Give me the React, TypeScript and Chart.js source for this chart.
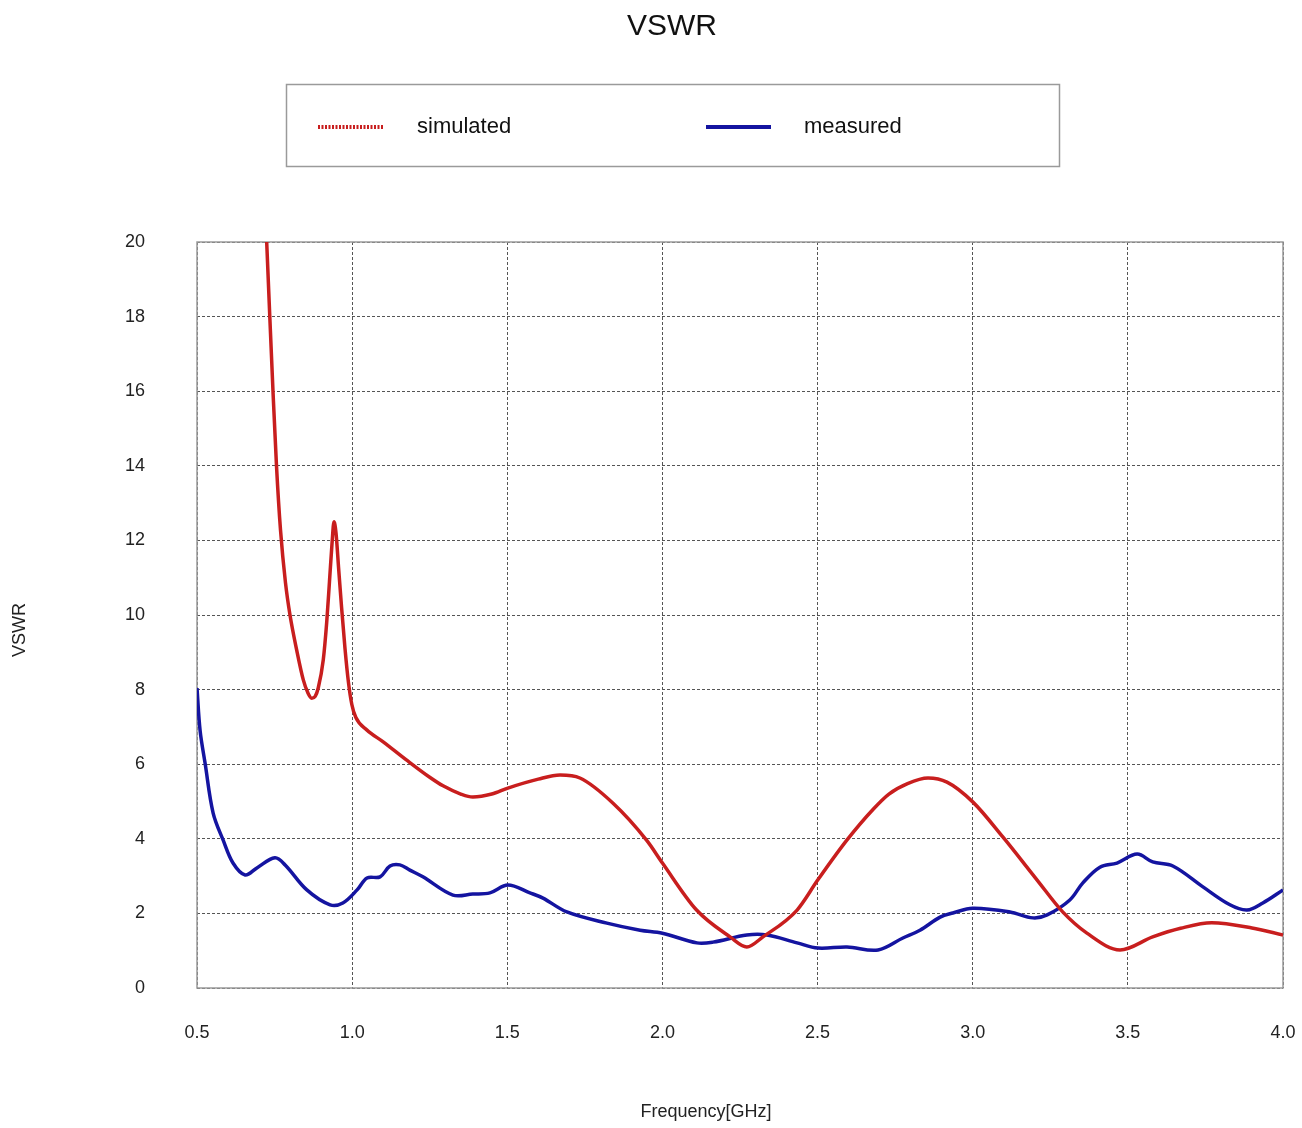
import React, { useEffect, useRef } from "react";
import { Chart, registerables } from "chart.js";

Chart.register(...registerables);

const chartTitle = "VSWR";
const xAxisTitle = "Frequency[GHz]";
const yAxisTitle = "VSWR";
const seriesNames = ["simulated", "measured"];

const simFreq = [0.7246, 0.7346, 0.7449, 0.7562, 0.7691, 0.7852, 0.7997, 0.8213, 0.8426, 0.857, 0.8696, 0.8809, 0.8909, 0.907, 0.918, 0.927, 0.935, 0.9415, 0.948, 0.956, 0.966, 0.977, 0.988, 0.999, 1.012, 1.047, 1.1, 1.177, 1.25, 1.293, 1.35, 1.389, 1.45, 1.502, 1.6, 1.67, 1.734, 1.84, 1.95, 2.0, 2.11, 2.218, 2.272, 2.324, 2.434, 2.501, 2.595, 2.68, 2.73, 2.79, 2.856, 2.917, 3.0, 3.097, 3.207, 3.29, 3.368, 3.475, 3.58, 3.67, 3.77, 3.9, 4.0];
const simVswr = [20, 18, 16, 14, 12.28, 10.86, 10, 9.06, 8.26, 7.92, 7.77, 7.82, 8.05, 8.8, 9.8, 10.9, 11.9, 12.5, 12.2, 11.3, 10.2, 9.1, 8.2, 7.6, 7.25, 6.92, 6.6, 6.1, 5.65, 5.42, 5.2, 5.12, 5.2, 5.36, 5.6, 5.71, 5.63, 4.96, 3.95, 3.35, 2.09, 1.37, 1.1, 1.37, 2.09, 2.9, 3.97, 4.8, 5.2, 5.48, 5.63, 5.52, 4.99, 4.05, 2.9, 2.04, 1.47, 1.02, 1.37, 1.6, 1.75, 1.61, 1.42];

const measFreq = [0.5, 0.51, 0.526, 0.552, 0.584, 0.616, 0.655, 0.693, 0.751, 0.784, 0.854, 0.929, 0.97, 1.016, 1.048, 1.09, 1.122, 1.154, 1.186, 1.228, 1.325, 1.389, 1.444, 1.502, 1.573, 1.615, 1.692, 1.821, 1.928, 2.0, 2.111, 2.163, 2.272, 2.337, 2.434, 2.501, 2.595, 2.695, 2.775, 2.83, 2.895, 2.936, 3.0, 3.12, 3.194, 3.24, 3.313, 3.355, 3.41, 3.465, 3.53, 3.58, 3.645, 3.742, 3.829, 3.884, 3.935, 4.0];
const measVswr = [8.04, 6.9, 6.03, 4.69, 3.97, 3.35, 3.03, 3.22, 3.49, 3.3, 2.63, 2.23, 2.28, 2.63, 2.95, 2.98, 3.27, 3.3, 3.16, 2.98, 2.49, 2.52, 2.55, 2.76, 2.55, 2.41, 2.04, 1.74, 1.55, 1.47, 1.21, 1.23, 1.42, 1.42, 1.21, 1.07, 1.1, 1.02, 1.34, 1.55, 1.9, 2.01, 2.14, 2.04, 1.88, 1.96, 2.36, 2.82, 3.24, 3.35, 3.59, 3.38, 3.27, 2.71, 2.23, 2.09, 2.28, 2.63];

const xMin = 0.5;
const xMax = 4.0;
const xStep = 0.5;
const yMin = 0;
const yMax = 20;
const yStep = 2;

const RED = "#c81e1e";
const BLUE = "#1414a0";
const FONT = "'Liberation Sans', Arial, sans-serif";

const decorPlugin = {
  id: "decor",
  beforeDatasetsDraw(chart: any) {
    const { ctx, chartArea } = chart;
    ctx.save();
    ctx.strokeStyle = "#9a9a9a";
    ctx.lineWidth = 1.5;
    ctx.setLineDash([]);
    ctx.strokeRect(chartArea.left, chartArea.top, chartArea.right - chartArea.left, chartArea.bottom - chartArea.top);
    ctx.restore();
  },
  afterDraw(chart: any) {
    const { ctx } = chart;
    ctx.save();
    ctx.fillStyle = "#111";
    ctx.font = `30px ${FONT}`;
    ctx.textAlign = "center";
    ctx.textBaseline = "middle";
    ctx.fillText(chartTitle, 672, 27);
    // axis titles
    ctx.fillStyle = "#222";
    ctx.font = `18px ${FONT}`;
    ctx.fillText(xAxisTitle, 706, 1112);
    ctx.save();
    ctx.translate(20, 630);
    ctx.rotate(-Math.PI / 2);
    ctx.fillText(yAxisTitle, 0, 0);
    ctx.restore();
    // legend
    ctx.strokeStyle = "#9a9a9a";
    ctx.lineWidth = 1.5;
    ctx.strokeRect(286.5, 84.5, 773, 82);
    const ds = chart.data.datasets;
    const items = [
      { x0: 318, x1: 383, tx: 417, dash: [2, 1.5] },
      { x0: 706, x1: 771, tx: 804, dash: [] },
    ];
    items.forEach((it, i) => {
      ctx.beginPath();
      ctx.strokeStyle = ds[i].borderColor;
      ctx.lineWidth = 4;
      ctx.setLineDash(it.dash);
      ctx.moveTo(it.x0, 127);
      ctx.lineTo(it.x1, 127);
      ctx.stroke();
      ctx.setLineDash([]);
      ctx.fillStyle = "#111";
      ctx.font = `22px ${FONT}`;
      ctx.textAlign = "left";
      ctx.textBaseline = "middle";
      ctx.fillText(ds[i].label, it.tx, 127);
    });
    ctx.restore();
  },
};

export default function App() {
  const ref = useRef<HTMLCanvasElement | null>(null);
  useEffect(() => {
    if (!ref.current) return;
    const sim = simFreq.map((f, i) => ({ x: f, y: simVswr[i] }));
    const meas = measFreq.map((f, i) => ({ x: f, y: measVswr[i] }));
    const gridCommon = {
      color: "#555",
      lineWidth: 1,
      drawTicks: false,
    };
    const chart = new Chart(ref.current, {
      type: "line",
      data: {
        datasets: [
          {
            label: seriesNames[0],
            data: sim,
            borderColor: RED,
            borderWidth: 3.5,
            pointRadius: 0,
            cubicInterpolationMode: "monotone",
            fill: false,
          },
          {
            label: seriesNames[1],
            data: meas,
            borderColor: BLUE,
            borderWidth: 3.5,
            pointRadius: 0,
            tension: 0.35,
            fill: false,
          },
        ],
      },
      options: {
        animation: false,
        responsive: false,
        maintainAspectRatio: false,
        layout: { padding: { top: 242, right: 19, left: 0, bottom: 0 } },
        plugins: {
          legend: { display: false },
          title: { display: false },
          tooltip: { enabled: false },
        },
        scales: {
          x: {
            type: "linear",
            min: xMin,
            max: xMax,
            border: { display: false, dash: [3, 2] },
            grid: { ...gridCommon },
            ticks: {
              stepSize: xStep,
              padding: 34,
              color: "#222",
              font: { family: FONT, size: 18 },
              callback: (v: any) => Number(v).toFixed(1),
              maxRotation: 0,
            },
            title: { display: false },
            afterFit: (s: any) => {
              s.height = 140;
              s.paddingLeft = 0;
              s.paddingRight = 0;
            },
          },
          y: {
            type: "linear",
            min: yMin,
            max: yMax,
            border: { display: false, dash: [3, 2] },
            grid: { ...gridCommon },
            ticks: {
              stepSize: yStep,
              padding: 52,
              color: "#222",
              font: { family: FONT, size: 18 },
            },
            title: { display: false },
            afterFit: (s: any) => {
              s.width = 197;
              s.paddingTop = 0;
              s.paddingBottom = 0;
            },
          },
        },
      } as any,
      plugins: [decorPlugin],
    });
    return () => chart.destroy();
  }, []);
  return (
    <div style={{ position: "absolute", left: 0, top: 0, width: 1302, height: 1128, background: "#fff" }}>
      <canvas ref={ref} width={1302} height={1128} style={{ width: 1302, height: 1128, display: "block" }} />
    </div>
  );
}
